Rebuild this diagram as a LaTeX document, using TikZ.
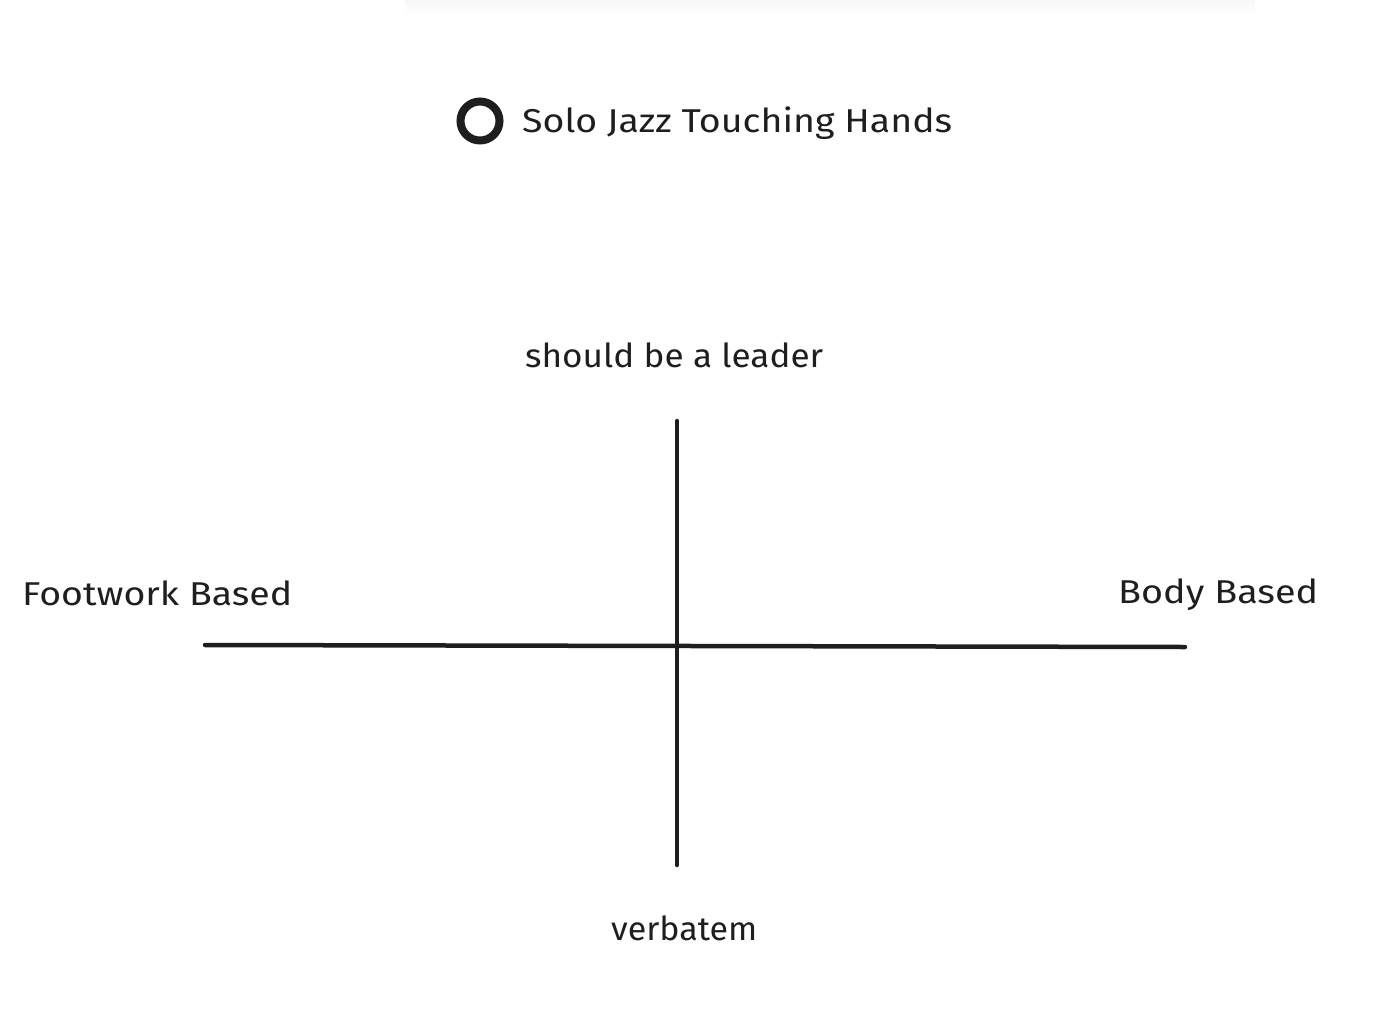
\documentclass[tikz,border=0pt]{standalone}
\usepackage{fontspec}
\setmainfont{Fira Sans}
\usepackage{graphicx}
\definecolor{ink}{HTML}{1E1E1E}
\tikzset{
  lbl/.style={anchor=base west, inner sep=0pt, text=ink, font=\fontsize{33}{38}\selectfont},
  axis/.style={draw=ink, line width=4.5pt, line cap=round},
  ring/.style={circle, draw=ink, line width=8pt, minimum size=39pt, inner sep=0pt}
}
\newcommand{\fitw}[2]{\resizebox{#1}{\height}{#2}}
\begin{document}
\begin{tikzpicture}[x=1pt,y=-1pt]
\useasboundingbox (0,0) rectangle (1376,1020);
\shade[top color=black!3, bottom color=white] (405,0) rectangle (1255,14);
\node[ring] (marker) at (480,121) {};
\node[lbl] (title) at (522,132) {\fitw{430pt}{Solo Jazz Touching Hands}};
\node[lbl] (top) at (525,367) {\fitw{298pt}{should be a leader}};
\node[lbl] (left) at (22,605) {\fitw{270pt}{Footwork Based}};
\node[lbl] (right) at (1118,603) {\fitw{200pt}{Body Based}};
\node[lbl] (bottom) at (611,940) {\fitw{146pt}{verbatem}};
\coordinate (vt) at (677,421);
\coordinate (vb) at (677,865);
\coordinate (hl) at (205,645);
\coordinate (hr) at (1185,647);
\draw[axis] (vt) -- (vb);
\draw[axis] (hl) -- (hr);
\end{tikzpicture}
\end{document}
